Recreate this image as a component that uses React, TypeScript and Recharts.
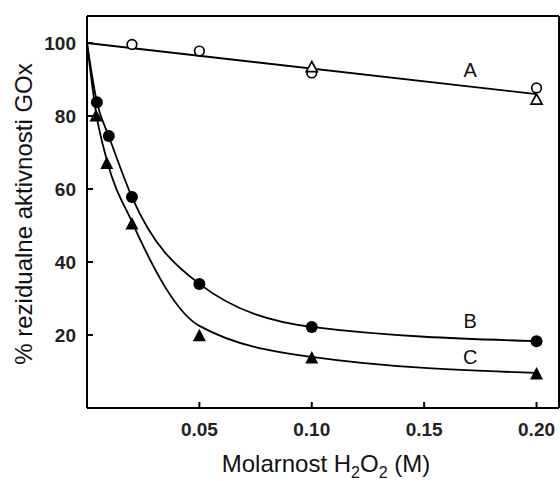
import { ComposedChart, Line, Scatter, XAxis, YAxis, ReferenceDot } from 'recharts'

// axis ticks
const xTicks = [0.05, 0.1, 0.15, 0.2]
const xTickLabels = ['0.05', '0.10', '0.15', '0.20']
const yTicks = [20, 40, 60, 80, 100]

// curve A (open symbols)
const lineA = [{ x: 0, y: 100 }, { x: 0.2, y: 86 }]
const circlesA = [
  { x: 0.02, y: 99.6 },
  { x: 0.05, y: 97.8 },
  { x: 0.1, y: 91.8 },
  { x: 0.2, y: 87.7 },
]
const trianglesA = [{ x: 0.1, y: 93.4 }, { x: 0.2, y: 84.5 }]

// curve B (filled circles)
const curveB = [
  { x: 0, y: 100 },
  { x: 0.0044, y: 83.8 },
  { x: 0.0097, y: 74.5 },
  { x: 0.02, y: 57.8 },
  { x: 0.05, y: 34 },
  { x: 0.1, y: 22.2 },
  { x: 0.2, y: 18.3 },
]
const pointsB = [
  { x: 0.0044, y: 83.8 },
  { x: 0.0097, y: 74.5 },
  { x: 0.02, y: 57.8 },
  { x: 0.05, y: 34 },
  { x: 0.1, y: 22.2 },
  { x: 0.2, y: 18.3 },
]

// curve C (filled triangles)
const curveC = [
  { x: 0, y: 100 },
  { x: 0.004, y: 81 },
  { x: 0.0088, y: 68 },
  { x: 0.02, y: 51 },
  { x: 0.05, y: 22.5 },
  { x: 0.1, y: 14 },
  { x: 0.2, y: 9.6 },
]
const pointsC = [
  { x: 0.004, y: 80 },
  { x: 0.0088, y: 67 },
  { x: 0.02, y: 50.4 },
  { x: 0.05, y: 19.8 },
  { x: 0.1, y: 13.7 },
  { x: 0.2, y: 9.3 },
]

// curve letters
const curveLabels = [
  { x: 0.1705, y: 92.5, text: 'A' },
  { x: 0.1705, y: 23.8, text: 'B' },
  { x: 0.1705, y: 13.9, text: 'C' },
]

const tickFont = { fontFamily: 'Liberation Sans, Arial, sans-serif', fontSize: 19, fontWeight: 'bold', fill: '#222' }
const axisStroke = { stroke: '#000', strokeWidth: 2 }

const OpenCircle = (p: any) => (
  <circle cx={p.cx} cy={p.cy} r={4.8} fill="#fff" stroke="#000" strokeWidth={1.7} />
)
const OpenTriangle = (p: any) => (
  <polygon
    points={`${p.cx},${p.cy - 5.5} ${p.cx - 5.5},${p.cy + 4.5} ${p.cx + 5.5},${p.cy + 4.5}`}
    fill="#fff"
    stroke="#000"
    strokeWidth={1.7}
  />
)
const FilledCircle = (p: any) => <circle cx={p.cx} cy={p.cy} r={6} fill="#000" />
const FilledTriangle = (p: any) => (
  <polygon points={`${p.cx},${p.cy - 7} ${p.cx - 6.5},${p.cy + 5.5} ${p.cx + 6.5},${p.cy + 5.5}`} fill="#000" />
)

const XTitle = () => (
  <text x={326} y={472} textAnchor="middle" fontFamily="Liberation Sans, Arial, sans-serif" fontSize={24} fill="#111">
    Molarnost H<tspan dy={6} fontSize={16}>2</tspan>
    <tspan dy={-6}>O</tspan>
    <tspan dy={6} fontSize={16}>2</tspan>
    <tspan dy={-6}> (M)</tspan>
  </text>
)

const YTitle = () => (
  <text
    x={32}
    y={214}
    transform="rotate(-90, 32, 214)"
    textAnchor="middle"
    fontFamily="Liberation Sans, Arial, sans-serif"
    fontSize={24}
    fill="#111"
  >
    % rezidualne aktivnosti GOx
  </text>
)

export default function App() {
  return (
    <div style={{ position: 'absolute', left: 0, top: 0, background: '#fff' }}>
      <ComposedChart width={560} height={481} margin={{ top: 15, right: 0, bottom: 0, left: 0 }}>
        <XAxis
          dataKey="x"
          type="number"
          domain={[0, 0.21]}
          ticks={xTicks}
          tickFormatter={(v: number) => xTickLabels[xTicks.indexOf(v)] ?? ''}
          height={73}
          axisLine={axisStroke}
          tickLine={axisStroke}
          tickSize={-6}
          tickMargin={21}
          tick={tickFont}
          label={{ content: () => <XTitle /> }}
        />
        <XAxis
          xAxisId="top"
          orientation="top"
          dataKey="x"
          type="number"
          domain={[0, 0.21]}
          ticks={xTicks}
          tickFormatter={() => ''}
          height={1}
          axisLine={axisStroke}
          tickLine={axisStroke}
          tickSize={-6}
        />
        <YAxis
          dataKey="y"
          type="number"
          domain={[0, 107.4]}
          ticks={yTicks}
          width={87}
          axisLine={axisStroke}
          tickLine={axisStroke}
          tickSize={-6}
          tickMargin={17}
          tick={tickFont}
          label={{ content: () => <YTitle /> }}
        />
        <YAxis
          yAxisId="right"
          orientation="right"
          dataKey="y"
          type="number"
          domain={[0, 107.4]}
          ticks={yTicks}
          tickFormatter={() => ''}
          width={1}
          axisLine={axisStroke}
          tickLine={axisStroke}
          tickSize={-6}
        />
        <Line data={lineA} dataKey="y" type="linear" stroke="#000" strokeWidth={1.8} dot={false} isAnimationActive={false} />
        <Line data={curveB} dataKey="y" type="monotone" stroke="#000" strokeWidth={1.8} dot={false} isAnimationActive={false} />
        <Line data={curveC} dataKey="y" type="monotone" stroke="#000" strokeWidth={1.8} dot={false} isAnimationActive={false} />
        <Scatter data={circlesA} shape={OpenCircle} isAnimationActive={false} />
        <Scatter data={trianglesA} shape={OpenTriangle} isAnimationActive={false} />
        <Scatter data={pointsB} shape={FilledCircle} isAnimationActive={false} />
        <Scatter data={pointsC} shape={FilledTriangle} isAnimationActive={false} />
        {curveLabels.map((l) => (
          <ReferenceDot
            key={l.text}
            x={l.x}
            y={l.y}
            r={1}
            shape={(p: any) => (
              <text
                x={p.cx}
                y={p.cy}
                textAnchor="middle"
                dominantBaseline="central"
                fontFamily="Liberation Sans, Arial, sans-serif"
                fontSize={20}
                fill="#111"
              >
                {l.text}
              </text>
            )}
          />
        ))}
      </ComposedChart>
    </div>
  )
}
